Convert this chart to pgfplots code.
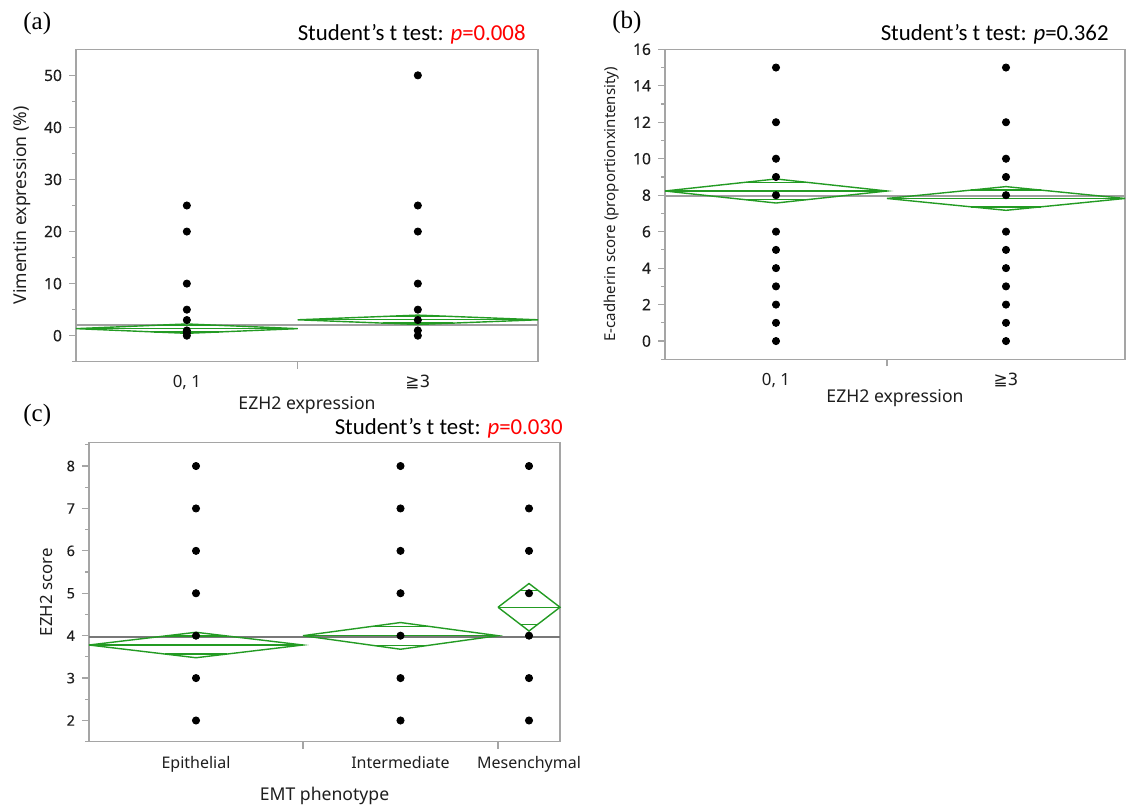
\documentclass[border=0pt]{standalone}
\usepackage{fontspec}
\usepackage{pgfplots}
\pgfplotsset{compat=1.18}
\setmainfont{Noto Sans}
\newfontfamily\calib{Carlito}
\newfontfamily\tnr{Liberation Serif}
\newfontfamily\dejavu{DejaVu Sans}
\newfontfamily\tickfont[FakeBold=0.4]{Noto Sans}

\definecolor{jmpgreen}{RGB}{35,155,35}
\definecolor{boxgray}{RGB}{165,165,165}
\definecolor{meangray}{RGB}{160,160,160}
\definecolor{txt}{RGB}{30,30,30}

% 1 px of the reference = 0.5pt
\pgfplotsset{
  jmp/.style={
    scale only axis, clip=false,
    axis line style={boxgray, line width=0.7pt},
    tick style={boxgray, line width=0.6pt},
    tick align=outside, xtick pos=bottom, ytick pos=left,
    major tick length=3.5pt, minor tick length=1.8pt,
    /pgf/number format/assume math mode=true,
    yticklabel style={font=\tickfont\fontsize{7.8}{9}\selectfont, text=txt},
    xticklabel style={font=\fontsize{8.4}{10}\selectfont, text=txt, anchor=base, yshift=-13pt},
    label style={font=\fontsize{8.8}{10}\selectfont, text=txt, anchor=center},
    extra x tick style={major tick length=0pt},
  },
  dots/.style={only marks, mark=*, mark size=1.8pt, black},
  dia/.style={jmpgreen, line width=0.7pt, no marks},
  gm/.style={meangray, line width=1pt, no marks},
}

\begin{document}
\begin{tikzpicture}
\useasboundingbox (0,0) rectangle (566pt,-402.5pt);

% (a) Vimentin
\begin{axis}[jmp, at={(38pt,-24.65pt)}, anchor=north west,
  width=231pt, height=156.2pt,
  xmin=0, xmax=462, ymin=-5, ymax=55,
  ytick={0,10,...,50}, minor ytick={-5,5,...,45},
  xtick={221.7}, xticklabels={},
  extra x ticks={110.85,341.85}, extra x tick labels={{0, 1},{\dejavu ≧3}},
  ylabel={Vimentin expression (\%)}, xlabel={EZH2 expression},
  ylabel style={at={(axis description cs:-0.117,0.5)}},
  xlabel style={at={(axis description cs:0.5,-0.1386)}}]
\addplot[gm] coordinates {(0,2.1) (462,2.1)};
\addplot[dia] coordinates {(0,1.35) (110.85,2.25) (221.7,1.35) (110.85,0.45) (0,1.35)};
\addplot[dia] coordinates {(0,1.35) (221.7,1.35)};
\addplot[dia] coordinates {(78.4,1.99) (143.3,1.99)};
\addplot[dia] coordinates {(78.4,0.71) (143.3,0.71)};
\addplot[dia] coordinates {(221.7,3.05) (341.85,3.95) (462,3.05) (341.85,2.15) (221.7,3.05)};
\addplot[dia] coordinates {(221.7,3.05) (462,3.05)};
\addplot[dia] coordinates {(306.7,3.69) (377.0,3.69)};
\addplot[dia] coordinates {(306.7,2.41) (377.0,2.41)};
\addplot[dots] coordinates {(110.85,0) (110.85,0.5) (110.85,1) (110.85,3) (110.85,5) (110.85,10) (110.85,20) (110.85,25)};
\addplot[dots] coordinates {(341.85,0) (341.85,1) (341.85,3) (341.85,5) (341.85,10) (341.85,20) (341.85,25) (341.85,50)};
\end{axis}

% (b) E-cadherin
\begin{axis}[jmp, at={(332.5pt,-24.65pt)}, anchor=north west,
  width=230pt, height=155pt,
  xmin=0, xmax=460, ymin=-1, ymax=16,
  ytick={0,2,...,16}, minor ytick={-1,1,...,15},
  xtick={222}, xticklabels={},
  extra x ticks={111,341}, extra x tick labels={{0, 1},{\dejavu ≧3}},
  ylabel={E-cadherin score (proportionxintensity)}, xlabel={EZH2 expression},
  ylabel style={at={(axis description cs:-0.1152,0.5)}, font=\fontsize{7.5}{9}\selectfont},
  xlabel style={at={(axis description cs:0.5,-0.125)}}]
\addplot[gm] coordinates {(0,7.98) (460,7.98)};
\addplot[dia] coordinates {(0,8.23) (111,8.89) (222,8.23) (111,7.57) (0,8.23)};
\addplot[dia] coordinates {(0,8.23) (222,8.23)};
\addplot[dia] coordinates {(78.5,8.70) (143.5,8.70)};
\addplot[dia] coordinates {(78.5,7.76) (143.5,7.76)};
\addplot[dia] coordinates {(222,7.82) (341,8.47) (460,7.82) (341,7.17) (222,7.82)};
\addplot[dia] coordinates {(222,7.82) (460,7.82)};
\addplot[dia] coordinates {(306.1,8.28) (375.9,8.28)};
\addplot[dia] coordinates {(306.1,7.36) (375.9,7.36)};
\addplot[dots] coordinates {(111,0) (111,1) (111,2) (111,3) (111,4) (111,5) (111,6) (111,8) (111,9) (111,10) (111,12) (111,15)};
\addplot[dots] coordinates {(341,0) (341,1) (341,2) (341,3) (341,4) (341,5) (341,6) (341,8) (341,9) (341,10) (341,12) (341,15)};
\end{axis}

% (c) EZH2 by EMT phenotype
\begin{axis}[jmp, at={(44.5pt,-221.35pt)}, anchor=north west,
  width=235.5pt, height=149.5pt,
  xmin=0, xmax=471, ymin=1.5, ymax=8.55,
  ytick={2,...,8}, minor ytick={1.5,2.5,...,8.5},
  yticklabel style={font=\tickfont\fontsize{7.2}{8}\selectfont},
  xticklabel style={font=\fontsize{8}{9}\selectfont, yshift=-0.3pt},
  xtick={214,409}, xticklabels={},
  extra x ticks={107,311.5,440}, extra x tick labels={Epithelial,Intermediate,Mesenchymal},
  ylabel={EZH2 score}, xlabel={EMT phenotype},
  ylabel style={at={(axis description cs:-0.0892,0.5)}, font=\fontsize{8.4}{10}\selectfont},
  xlabel style={at={(axis description cs:0.5,-0.1816)}}]
\addplot[gm, draw={rgb,255:red,120;green,120;blue,120}] coordinates {(0,3.98) (471,3.98)};
\addplot[dia] coordinates {(0,3.78) (107,4.08) (214,3.78) (107,3.48) (0,3.78)};
\addplot[dia] coordinates {(0,3.78) (214,3.78)};
\addplot[dia] coordinates {(75.7,3.99) (138.3,3.99)};
\addplot[dia] coordinates {(75.7,3.57) (138.3,3.57)};
\addplot[dia] coordinates {(214,4.0) (311.5,4.31) (409,4.0) (311.5,3.68) (214,4.0)};
\addplot[dia] coordinates {(214,4.0) (409,4.0)};
\addplot[dia] coordinates {(282.9,4.22) (340.1,4.22)};
\addplot[dia] coordinates {(282.9,3.77) (340.1,3.77)};
\addplot[dia] coordinates {(409,4.67) (440,5.23) (471,4.67) (440,4.11) (409,4.67)};
\addplot[dia] coordinates {(409,4.67) (471,4.67)};
\addplot[dia] coordinates {(430.9,5.07) (449.1,5.07)};
\addplot[dia] coordinates {(430.9,4.27) (449.1,4.27)};
\addplot[dots] coordinates {(107,2) (107,3) (107,4) (107,5) (107,6) (107,7) (107,8)};
\addplot[dots] coordinates {(311.5,2) (311.5,3) (311.5,4) (311.5,5) (311.5,6) (311.5,7) (311.5,8)};
\addplot[dots] coordinates {(440,2) (440,3) (440,4) (440,5) (440,6) (440,7) (440,8)};
\end{axis}

% panel letters and test results
\node[anchor=base west, inner sep=0pt, font=\tnr\fontsize{12.5}{14}\selectfont] at (11.5pt,-14.6pt) {(a)};
\node[anchor=base west, inner sep=0pt, font=\tnr\fontsize{12.5}{14}\selectfont] at (306pt,-14.2pt) {(b)};
\node[anchor=base west, inner sep=0pt, font=\tnr\fontsize{12.5}{14}\selectfont] at (11.5pt,-210.8pt) {(c)};
\node[anchor=base east, inner sep=0pt, font=\calib\fontsize{11.4}{13}\selectfont] at (263pt,-20.3pt) {Student’s t test: \textcolor{red}{\textit{p}=0.008}};
\node[anchor=base east, inner sep=0pt, font=\calib\fontsize{11.4}{13}\selectfont] at (554.5pt,-20pt) {Student’s t test: \textit{p}=0.362};
\node[anchor=base east, inner sep=0pt, font=\calib\fontsize{11.4}{13}\selectfont] at (281.5pt,-217pt) {Student’s t test: \textcolor{red}{\textit{p}=0.030}};
\end{tikzpicture}
\end{document}
